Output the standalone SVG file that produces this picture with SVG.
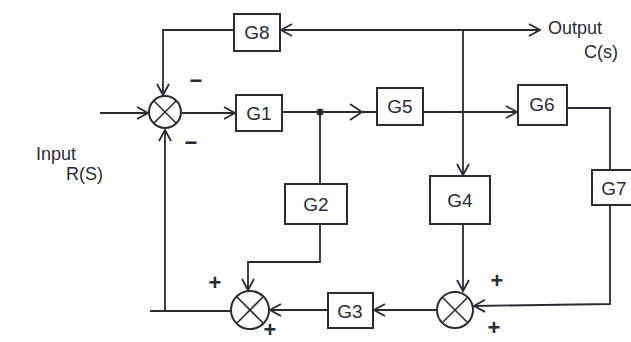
<svg xmlns="http://www.w3.org/2000/svg" width="631" height="342" viewBox="0 0 631 342">
<style>
.box{fill:#fff;stroke:#2b2b33;stroke-width:2}
.ln{fill:none;stroke:#2b2b33;stroke-width:1.8}
.sj{fill:#fff;stroke:#2b2b33;stroke-width:2}
.x{stroke:#2b2b33;stroke-width:1.6}
.lbl{font-family:"Liberation Sans",Arial,sans-serif;font-size:19px;fill:#2b2b33;text-anchor:middle}
.txt{font-family:"Liberation Sans",Arial,sans-serif;font-size:18px;fill:#2b2b33}
.sg{font-family:"Liberation Sans",Arial,sans-serif;font-size:22px;font-weight:bold;fill:#2b2b33;text-anchor:middle}
</style>
<defs>
<marker id="ah" markerWidth="14" markerHeight="14" refX="12" refY="7" orient="auto" markerUnits="userSpaceOnUse">
<path d="M1,1 L12,7 L1,13" fill="none" stroke="#2b2b33" stroke-width="1.8"/>
</marker>
</defs>
<rect width="631" height="342" fill="#fff"/>
<g id="connectors">
<line class="ln" x1="100" y1="113" x2="148" y2="113" marker-end="url(#ah)"/>
<line class="ln" x1="182" y1="113" x2="235" y2="113" marker-end="url(#ah)"/>
<line class="ln" x1="282" y1="112" x2="377" y2="112"/>
<path class="ln" d="M350,104 L362,112 L350,120"/>
<circle cx="320" cy="112" r="3.5" fill="#2b2b33"/>
<line class="ln" x1="320" y1="112" x2="320" y2="184"/>
<line class="ln" x1="423" y1="112" x2="517" y2="112" marker-end="url(#ah)"/>
<line class="ln" x1="463" y1="30" x2="540" y2="30" marker-end="url(#ah)"/>
<line class="ln" x1="463" y1="30" x2="281" y2="30" marker-end="url(#ah)"/>
<polyline class="ln" points="234,30 163,30 163,95" marker-end="url(#ah)"/>
<polyline class="ln" points="463,30 463,175" marker-end="url(#ah)"/>
<polyline class="ln" points="567,108 610,108 610,170"/>
<polyline class="ln" points="610,205 610,304 474,306" marker-end="url(#ah)"/>
<polyline class="ln" points="463,224 463,291" marker-end="url(#ah)"/>
<line class="ln" x1="437" y1="310" x2="374" y2="310" marker-end="url(#ah)"/>
<line class="ln" x1="328" y1="310" x2="270" y2="310" marker-end="url(#ah)"/>
<polyline class="ln" points="320,224 320,262 248,262 248,290" marker-end="url(#ah)"/>
<polyline class="ln" points="231,311 150,311"/>
<polyline class="ln" points="165,311 165,130" marker-end="url(#ah)"/>
</g>
<g id="sum1">
<circle class="sj" cx="165" cy="112" r="16"/>
<line class="x" x1="154" y1="101" x2="176" y2="123"/>
<line class="x" x1="176" y1="101" x2="154" y2="123"/>
<text class="sg" x="196" y="88">−</text>
<text class="sg" x="191" y="150">−</text>
</g>
<g id="sum2">
<circle class="sj" cx="250" cy="310" r="19"/>
<line class="x" x1="237" y1="297" x2="263" y2="323"/>
<line class="x" x1="263" y1="297" x2="237" y2="323"/>
<text class="sg" x="215" y="290">+</text>
<text class="sg" x="270" y="337">+</text>
</g>
<g id="sum3">
<circle class="sj" cx="455" cy="310" r="18"/>
<line class="x" x1="443" y1="298" x2="467" y2="322"/>
<line class="x" x1="467" y1="298" x2="443" y2="322"/>
<text class="sg" x="497" y="288">+</text>
<text class="sg" x="494" y="335">+</text>
</g>
<g id="G8"><rect class="box" x="234" y="14" width="46" height="37"/><text class="lbl" x="257" y="39">G8</text></g>
<g id="G1"><rect class="box" x="236" y="95" width="46" height="36"/><text class="lbl" x="259" y="120">G1</text></g>
<g id="G5"><rect class="box" x="377" y="88" width="46" height="37"/><text class="lbl" x="400" y="113">G5</text></g>
<g id="G6"><rect class="box" x="518" y="85" width="49" height="40"/><text class="lbl" x="542" y="111">G6</text></g>
<g id="G2"><rect class="box" x="285" y="184" width="62" height="40"/><text class="lbl" x="316" y="211">G2</text></g>
<g id="G4"><rect class="box" x="430" y="176" width="60" height="48"/><text class="lbl" x="460" y="207">G4</text></g>
<g id="G7"><rect class="box" x="592" y="170" width="50" height="35"/><text class="lbl" x="614" y="195">G7</text></g>
<g id="G3"><rect class="box" x="328" y="293" width="45" height="35"/><text class="lbl" x="350" y="318">G3</text></g>
<g id="labels">
<text class="txt" x="36" y="160">Input</text>
<text class="txt" x="66" y="180">R(S)</text>
<text class="txt" x="548" y="34">Output</text>
<text class="txt" x="584" y="58">C(s)</text>
</g>
</svg>
